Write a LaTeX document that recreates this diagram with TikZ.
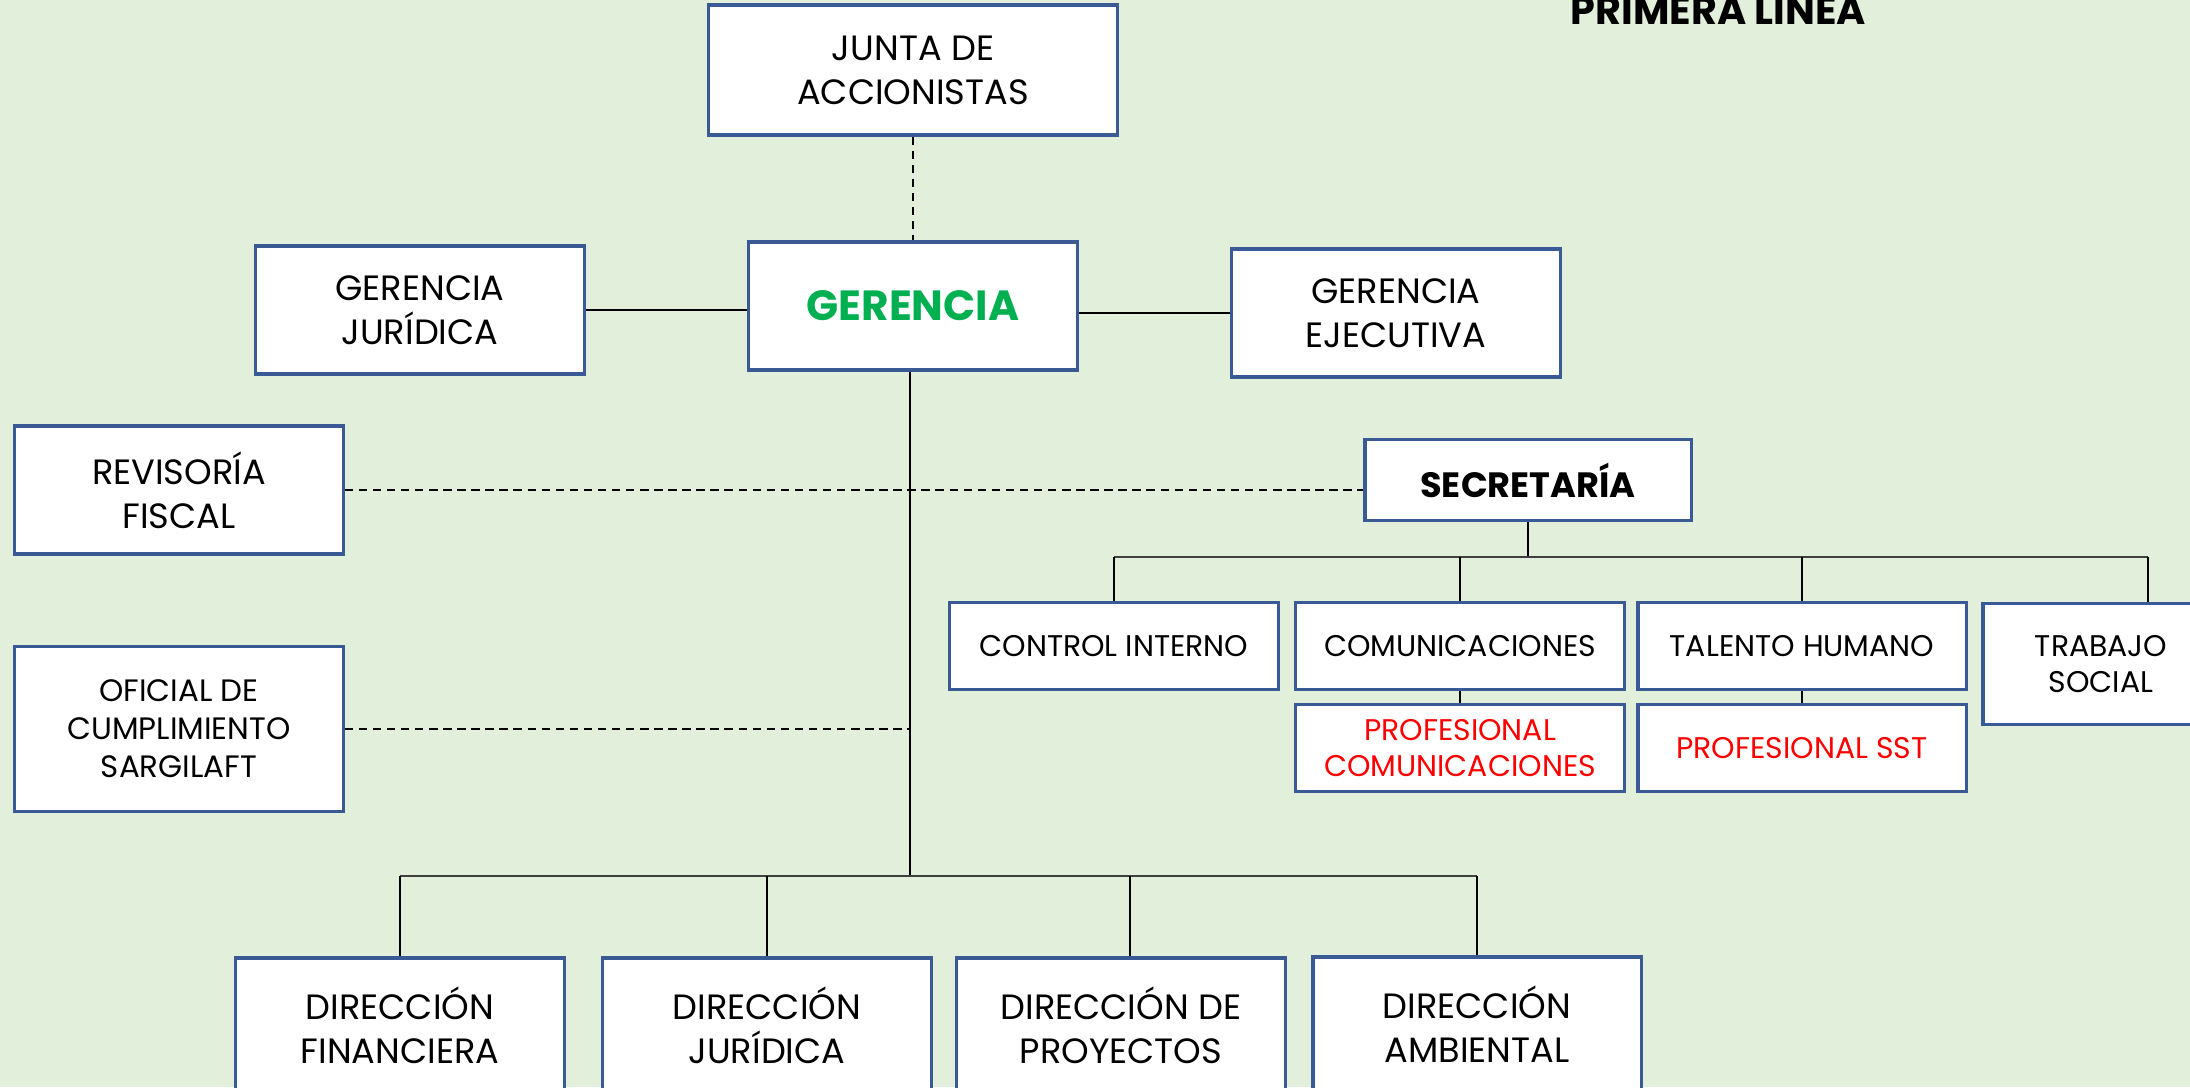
\documentclass[tikz,border=0pt]{standalone}
\usepackage{fontspec}
\setmainfont{Poppins}
\definecolor{fondo}{HTML}{E2EFDA}
\definecolor{borde}{HTML}{3A5A96}
\definecolor{verde}{HTML}{00B050}
\definecolor{rojo}{HTML}{FF0000}

\begin{document}
\begin{tikzpicture}[x=0.01cm,y=-0.01cm,
        caja/.style={draw=borde,fill=white,line width=0.9pt,align=center,inner sep=0pt,minimum width=3.28cm,minimum height=#1},
        caja/.default=1.28cm,
        grande/.style={font=\fontsize{10}{12.5}\selectfont},
        media/.style={font=\fontsize{8.8}{10.8}\selectfont},
        chica/.style={font=\fontsize{8.5}{10}\selectfont},
        linea/.style={line width=0.45pt,black},
        barra/.style={line width=0.7pt,black!75},
        punteada/.style={line width=0.6pt,dash pattern=on 2.4pt off 1.6pt}]
        \useasboundingbox(0,0)rectangle(2190,1087);
        \fill[fondo](0,0)rectangle(2190,1087);
        \clip(0,0)rectangle(2190,1087);

        \node[font=\bfseries\fontsize{11.3}{13}\selectfont,anchor=base west,inner sep=0pt](titulo)at(1570,24){PRIMERA LINEA};

        \node[caja=1.30cm,grande,minimum width=4.09cm](junta)at(913,70){JUNTA DE\\ACCIONISTAS};
        \node[caja,font=\bfseries\fontsize{12}{14}\selectfont,text=verde,minimum width=3.29cm](ger)at(913,306){GERENCIA};
        \node[caja,grande](gjur)at(420,310){GERENCIA\\JURÍDICA};
        \node[caja,grande](gejec)at(1396,313){GERENCIA\\EJECUTIVA};
        \node[caja,grande](rev)at(179,490){REVISORÍA\\FISCAL};
        \node[caja=1.65cm,media](ofi)at(179,729){OFICIAL DE\\CUMPLIMIENTO\\SARGILAFT};

        \node[caja=0.81cm,font=\bfseries\fontsize{10}{12}\selectfont,minimum width=3.26cm](sec)at(1528,480){SECRETARÍA};
        \node[caja=0.87cm,chica](ctrl)at(1114,646){CONTROL INTERNO};
        \node[caja=0.87cm,chica](com)at(1460,646){COMUNICACIONES};
        \node[caja=0.87cm,chica,text=rojo](pcom)at(1460,748){PROFESIONAL\\COMUNICACIONES};
        \node[caja=0.87cm,chica](tal)at(1802,646){TALENTO HUMANO};
        \node[caja=0.87cm,chica,text=rojo](psst)at(1802,748){PROFESIONAL SST};
        \node[caja=1.21cm,chica,minimum width=2.36cm](trab)at(2101,664){TRABAJO\\SOCIAL};

        \node[caja=1.34cm,grande](dfin)at(400,1025){DIRECCIÓN\\FINANCIERA};
        \node[caja=1.34cm,grande](djur)at(767,1025){DIRECCIÓN\\JURÍDICA};
        \node[caja=1.34cm,grande](dproy)at(1121,1025){DIRECCIÓN DE\\PROYECTOS};
        \node[caja=1.34cm,grande](damb)at(1477,1024){DIRECCIÓN\\AMBIENTAL};

        \coordinate(bajo)at(910,876);
        \coordinate(sbus)at(1528,557);
        \coordinate(tcol)at(2148,557);

        \draw[punteada](junta)--(ger);
        \draw[linea](gjur.east)--(gjur.east-|ger.west);
        \draw[linea](gejec.west)--(gejec.west-|ger.east);
        \draw[linea](ger.south-|bajo)--(bajo);
        \draw[punteada](rev)--(rev-|sec.west);
        \draw[punteada](ofi)--(ofi-|bajo);

        \draw[barra](dfin.north|-bajo)--(damb.north|-bajo);
        \foreach \n in {dfin,djur,damb}
            \draw[linea](\n.north|-bajo)--(\n.north);
        \draw[linea]([xshift=0.09cm]dproy.north|-bajo)--([xshift=0.09cm]dproy.north);

        \draw[linea](sec)--(sbus);
        \draw[barra](ctrl.north|-sbus)--(tcol);
        \foreach \n in {ctrl,com,tal}
            \draw[linea](\n.north|-sbus)--(\n.north);
        \draw[linea](tcol)--(tcol|-trab.north);
        \draw[linea](com)--(pcom);
        \draw[linea](tal)--(psst);
    \end{tikzpicture}
\end{document}
